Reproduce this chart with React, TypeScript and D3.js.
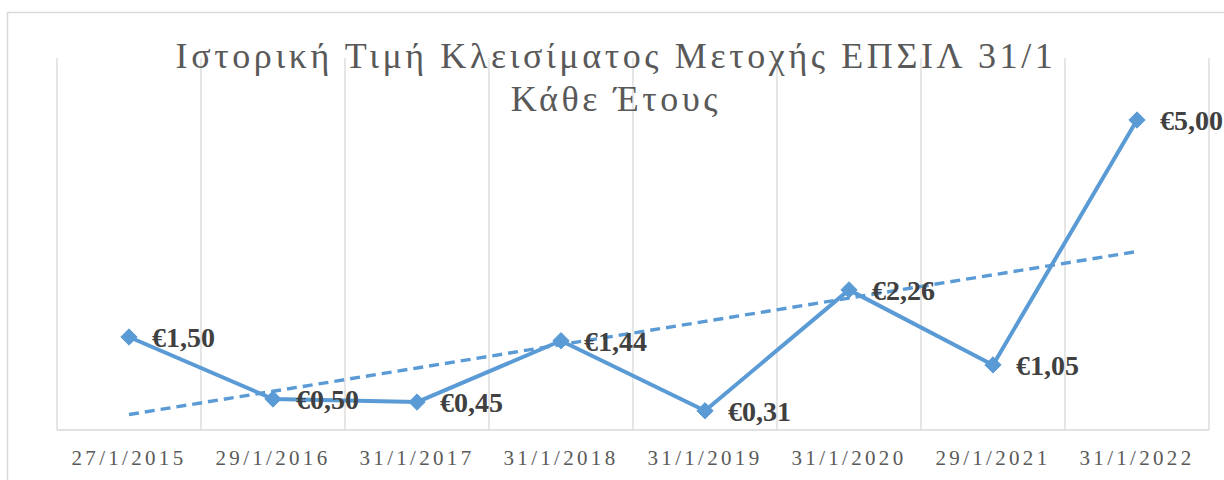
import React from "react";
import * as d3 from "d3";

const categories = ["27/1/2015", "29/1/2016", "31/1/2017", "31/1/2018", "31/1/2019", "31/1/2020", "29/1/2021", "31/1/2022"];
const prices = [1.5, 0.5, 0.45, 1.44, 0.31, 2.26, 1.05, 5.0];
const priceLabels = ["€1,50", "€0,50", "€0,45", "€1,44", "€0,31", "€2,26", "€1,05", "€5,00"];
const titleLines = ["Ιστορική Τιμή Κλεισίματος Μετοχής ΕΠΣΙΛ 31/1", "Κάθε Έτους"];

const W = 1224;
const H = 480;
const plot = { left: 57, right: 1209, top: 58, bottom: 430 };
const color = "#5B9BD5";
const grid = "#d9d9d9";
const textColor = "#595959";
const serif = "'Liberation Serif', 'Times New Roman', serif";

export default function App() {
  const x = d3.scaleBand<string>().domain(categories).range([plot.left, plot.right]).padding(0);
  const y = d3.scaleLinear().domain([0, 6]).range([plot.bottom, plot.top]);
  const cx = (i: number) => (x(categories[i]) as number) + x.bandwidth() / 2;

  // linear trendline (least squares over index 1..n)
  const xs = prices.map((_, i) => i + 1);
  const mx = d3.mean(xs) as number;
  const my = d3.mean(prices) as number;
  const sxy = d3.sum(xs.map((xi, i) => (xi - mx) * (prices[i] - my)));
  const sxx = d3.sum(xs.map((xi) => (xi - mx) ** 2));
  const slope = sxy / sxx;
  const icpt = my - slope * mx;
  const trend = xs.map((xi) => icpt + slope * xi);

  const line = d3.line<number>().x((_, i) => cx(i)).y((d) => y(d));
  const bounds = [...categories.map((c) => x(c) as number), plot.right];
  const diamond = d3.symbol().type(d3.symbolDiamond2).size(170)();

  return (
    <svg width={W} height={H} style={{ position: "absolute", left: 0, top: 0, background: "#fff" }}>
      <rect x={7.5} y={12.5} width={W + 20} height={H + 20} fill="#fff" stroke={grid} strokeWidth={1.5} />
      {bounds.map((b, i) => (
        <line key={i} x1={b} x2={b} y1={plot.top} y2={plot.bottom} stroke={grid} strokeWidth={1.3} />
      ))}
      <line x1={plot.left} x2={plot.right} y1={plot.bottom} y2={plot.bottom} stroke={grid} strokeWidth={1.5} />
      {titleLines.map((t, i) => (
        <text key={i} x={616} y={68 + i * 43} textAnchor="middle" fontFamily={serif} fontSize={36}
          letterSpacing={3.6} fill={textColor}>{t}</text>
      ))}
      {categories.map((c, i) => (
        <text key={c} x={cx(i)} y={465} textAnchor="middle" fontFamily={serif} fontSize={21}
          letterSpacing={3.3} fill={textColor}>{c}</text>
      ))}
      <path d={line(trend) as string} fill="none" stroke={color} strokeWidth={3.4} strokeDasharray="10 6" />
      <path d={line(prices) as string} fill="none" stroke={color} strokeWidth={4} strokeLinejoin="round" />
      {prices.map((p, i) => (
        <path key={i} d={diamond as string} transform={`translate(${cx(i)},${y(p)})`} fill={color} stroke={color} />
      ))}
      {prices.map((p, i) => (
        <text key={"l" + i} x={cx(i) + 23} y={y(p)} dy="0.35em" fontFamily={serif} fontWeight="bold"
          fontSize={28} fill="#404040">{priceLabels[i]}</text>
      ))}
    </svg>
  );
}
